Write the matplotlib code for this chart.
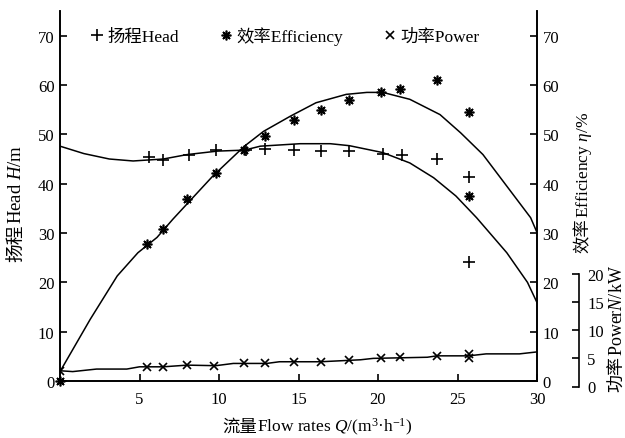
import numpy as np
import matplotlib
matplotlib.use("Agg")
import matplotlib.pyplot as plt

plt.rcParams['font.family'] = ['Liberation Serif', 'Noto Sans CJK SC']
plt.rcParams['mathtext.fontset'] = 'custom'
plt.rcParams['mathtext.rm'] = 'Liberation Serif'
plt.rcParams['mathtext.it'] = 'Liberation Serif:italic'
plt.rcParams['mathtext.bf'] = 'Liberation Serif:bold'

# measured points
head_q = [5.6, 6.5, 8.1, 9.8, 11.7, 12.9, 14.7, 16.4, 18.2, 20.3, 21.5, 23.7, 25.7, 25.7]
head_h = [45.4, 44.7, 45.8, 46.8, 46.8, 47.1, 46.8, 46.7, 46.6, 46.1, 45.9, 45.0, 41.3, 24.1]
eff_q = [0, 5.5, 6.5, 8.0, 9.8, 11.6, 12.9, 14.7, 16.4, 18.2, 20.2, 21.4, 23.7, 25.7, 25.7]
eff_e = [0, 27.7, 30.8, 36.8, 42.1, 46.8, 49.6, 53.0, 55.0, 56.9, 58.5, 59.2, 61.1, 54.5, 37.5]
pow_q = [0, 5.5, 6.5, 8.0, 9.7, 11.6, 12.9, 14.7, 16.4, 18.2, 20.2, 21.4, 23.7, 25.7, 25.7]
pow_n = [2.8, 3.5, 3.4, 3.8, 3.7, 4.1, 4.1, 4.4, 4.4, 4.8, 5.0, 5.2, 5.5, 5.8, 5.0]

# fitted curves
head_fit_q = [0, 1.5, 3.1, 4.6, 6.5, 8.0, 9.9, 11.6, 12.6, 15.1, 17.0, 18.2, 20.3, 22.0, 23.5, 24.9, 26.2, 28.1, 29.4, 30]
head_fit_h = [47.6, 46.1, 45.0, 44.6, 45.0, 45.9, 46.6, 46.8, 47.6, 48.1, 48.1, 47.7, 46.3, 44.2, 41.2, 37.5, 33.1, 26.0, 20.0, 15.9]
eff_fit_q = [0, 1.9, 3.6, 4.9, 6.1, 7.1, 9.6, 11.6, 12.8, 14.5, 16.1, 18.0, 19.3, 20.3, 22.0, 23.9, 25.2, 26.6, 28.1, 29.6, 30]
eff_fit_e = [1.9, 12.5, 21.3, 26.0, 29.1, 32.8, 41.5, 47.6, 50.6, 53.7, 56.4, 58.1, 58.5, 58.5, 57.1, 54.0, 50.3, 45.9, 39.5, 33.1, 30.1]
pow_fit_q = [0, 0.8, 2.3, 4.2, 5.0, 6.5, 8.0, 9.8, 10.9, 13.0, 13.8, 16.4, 18.9, 19.7, 23.1, 23.7, 25.7, 26.8, 28.9, 30]
pow_fit_n = [2.8, 2.65, 3.1, 3.1, 3.5, 3.5, 3.8, 3.7, 4.1, 4.1, 4.4, 4.4, 4.75, 5.0, 5.2, 5.45, 5.45, 5.8, 5.8, 6.15]

W, H = 625, 439
fig = plt.figure(figsize=(W / 100, H / 100), dpi=100)
ax = fig.add_axes([60 / W, (H - 382) / H, 477 / W, 370 / H])
ax2 = ax.twinx()
ax3 = fig.add_axes([60 / W, (H - 387.5) / H, 477 / W, 112.5 / H])

fs = 12
lw = 1.1
star = dict(ls='none', marker=(8, 2, 0), ms=7, mew=1.2, color='black')
plus = dict(ls='none', marker='+', ms=9, mew=1.2, color='black')
cross = dict(ls='none', marker='x', ms=5.5, mew=1.2, color='black')

ax.plot(head_fit_q, head_fit_h, color='black', lw=lw)
ax.plot(head_q, head_h, **plus)
ax2.plot(eff_fit_q, eff_fit_e, color='black', lw=lw)
ax2.plot(eff_q, eff_e, clip_on=False, **star)
ax3.plot(pow_fit_q, pow_fit_n, color='black', lw=lw)
ax3.plot(pow_q, pow_n, **cross)

ax.set_xlim(0, 30)
ax.set_ylim(0, 75)
ax2.set_ylim(0, 75)
ax.set_xticks([5, 10, 15, 20, 25, 30])
ax.set_yticks(np.arange(0, 80, 10))
ax2.set_yticks(np.arange(0, 80, 10))
for a in (ax, ax2):
    a.spines['top'].set_visible(False)
    for s in a.spines.values():
        s.set_linewidth(1.2)
ax.tick_params(axis='x', direction='in', length=5, width=1.2, labelsize=fs, pad=7)
ax.tick_params(axis='y', direction='in', length=5, width=1.2, labelsize=fs, pad=4, right=False)
ax2.tick_params(axis='y', direction='in', length=5, width=1.2, labelsize=fs, pad=4)

ax3.set_xlim(0, 30)
ax3.set_ylim(0, 20)
ax3.patch.set_visible(False)
ax3.xaxis.set_visible(False)
for k in ('top', 'bottom', 'left'):
    ax3.spines[k].set_visible(False)
ax3.spines['right'].set_position(('axes', (579 - 60) / 477))
ax3.spines['right'].set_linewidth(1.2)
ax3.yaxis.tick_right()
ax3.set_yticks([0, 5, 10, 15, 20])
ax3.tick_params(axis='y', direction='in', length=5, width=1.2, labelsize=fs, pad=6)

# legend
hd = [plt.Line2D([], [], **plus), plt.Line2D([], [], **star), plt.Line2D([], [], **cross)]
ax.legend(hd, ['扬程Head', '效率Efficiency', '功率Power'], ncol=3, frameon=False,
          loc='upper left', bbox_to_anchor=(23 / 477, 1 - 8 / 370), fontsize=12.5,
          handlelength=0.8, handletextpad=0.2, columnspacing=2.3, borderaxespad=0)

# axis titles, built piece by piece so CJK and italics both render
rend = fig.canvas.get_renderer()


def put_label(parts, x, y, rot=0, size=12.5):
    for s, fam in parts:
        t = fig.text(x / W, 1 - y / H, s, family=fam, fontsize=size, rotation=rot,
                     rotation_mode='anchor', ha='left', va='baseline')
        bb = t.get_window_extent(rend)
        if rot:
            y = H - bb.y1
        else:
            x = bb.x1


cjk = 'Noto Sans CJK SC'
ser = 'Liberation Serif'
put_label([('扬程', cjk), ('Head $H$/m', ser)], 21, 262, 90, 13.5)
put_label([('效率', cjk), ('Efficiency $\\eta$/%', ser)], 588, 253, 90)
put_label([('功率', cjk), ('Power$N$/kW', ser)], 622, 392, 90, 13)
put_label([('流量', cjk), ('Flow rates $Q$/(m$^3$·h$^{-1}$)', ser)], 222, 432, 0)

fig.savefig('out.png', dpi=100)
